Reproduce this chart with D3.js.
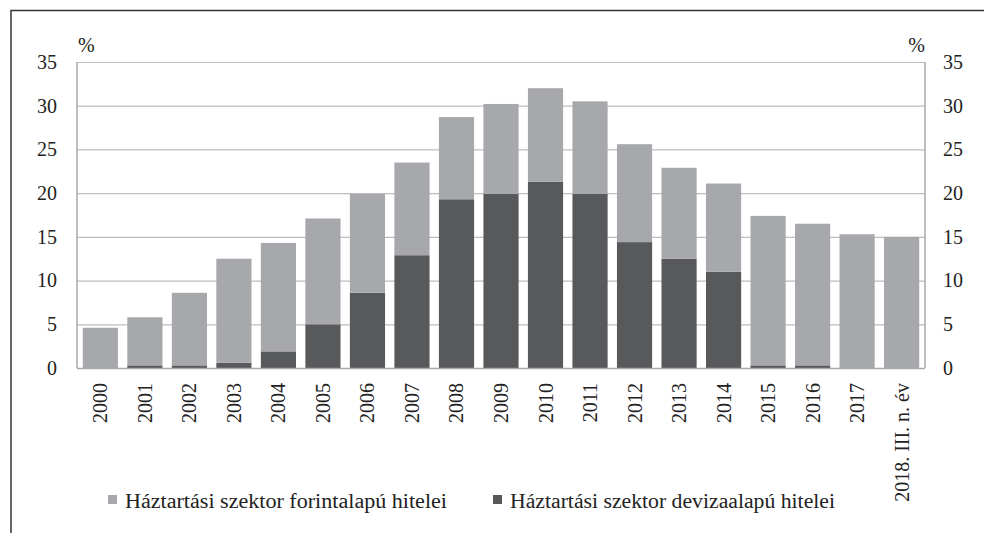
<!DOCTYPE html>
<html><head><meta charset="utf-8">
<script src="https://cdn.jsdelivr.net/npm/d3@7"></script>
<style>body{margin:0;background:#fff}svg{display:block}text{font-family:"Liberation Serif","Times New Roman",serif;fill:#222}</style>
</head><body><svg id="c" width="984" height="533"></svg>
<script>
const categories=["2000","2001","2002","2003","2004","2005","2006","2007","2008","2009","2010","2011","2012","2013","2014","2015","2016","2017","2018. III. n. év"];
const totals=[4.6,5.8,8.6,12.5,14.3,17.1,19.9,23.5,28.7,30.2,32.0,30.5,25.6,22.9,21.1,17.4,16.5,15.3,15.0];
const deviza=[0,0.3,0.3,0.6,1.9,5.0,8.6,12.9,19.3,19.9,21.3,19.9,14.4,12.5,11.0,0.3,0.3,0,0];
const forint=totals.map((t,i)=>+(t-deviza[i]).toFixed(2));
const yTicks=[0,5,10,15,20,25,30,35];
const seriesNames=["Háztartási szektor forintalapú hitelei","Háztartási szektor devizaalapú hitelei"];
const colors=["#a7a8ab","#58595b"];

const svg=d3.select("#c");
const L=77,R=925,T=62,B=368;
const FS=20;
// frame
svg.append("path").attr("d",`M11,533 V10.5 H984`).attr("fill","none").attr("stroke","#333").attr("stroke-width",1.5);

const x=d3.scaleBand().domain(categories).range([L,R]).paddingInner(0.21).paddingOuter(0.13);
const y=d3.scaleLinear().domain([0,35]).range([B,T]);

// gridlines
svg.append("g").selectAll("line").data(yTicks.slice(1)).join("line")
 .attr("x1",L).attr("x2",R).attr("y1",d=>y(d)+0.5).attr("y2",d=>y(d)+0.5)
 .attr("stroke","#bdbdbd").attr("stroke-width",1.2);

// bars
const stackData=categories.map((c,i)=>({cat:c,deviza:deviza[i],forint:forint[i]}));
const stack=d3.stack().keys(["deviza","forint"])(stackData);
const colorOf={deviza:colors[1],forint:colors[0]};
svg.append("g").selectAll("g").data(stack).join("g").attr("fill",d=>colorOf[d.key])
 .selectAll("rect").data(d=>d).join("rect")
 .attr("x",d=>x(d.data.cat)).attr("width",x.bandwidth())
 .attr("y",d=>y(d[1])).attr("height",d=>Math.max(0,y(d[0])-y(d[1])));

// axis frame lines
const ax=svg.append("g").attr("stroke","#a9a9a9").attr("stroke-width",1.5);
ax.append("line").attr("x1",L).attr("x2",L).attr("y1",T).attr("y2",B);
ax.append("line").attr("x1",R).attr("x2",R).attr("y1",T).attr("y2",B);
ax.append("line").attr("x1",L).attr("x2",R).attr("y1",B+0.5).attr("y2",B+0.5);

// y axes via d3 axes
const yl=svg.append("g").attr("transform",`translate(${L},0)`).call(d3.axisLeft(y).tickValues(yTicks).tickSize(0).tickPadding(20));
const yr=svg.append("g").attr("transform",`translate(${R},0)`).call(d3.axisRight(y).tickValues(yTicks).tickSize(0).tickPadding(18));
[yl,yr].forEach(g=>{g.select(".domain").remove();g.selectAll("text").attr("font-size",FS).attr("font-family","Liberation Serif").attr("fill","#222");});

svg.append("text").attr("x",78).attr("y",52).attr("font-size",FS).text("%");
svg.append("text").attr("x",925).attr("y",52).attr("font-size",FS).attr("text-anchor","end").text("%");

// x labels
const xa=svg.append("g").attr("transform",`translate(0,${B})`).call(d3.axisBottom(x).tickSize(0).tickPadding(0));
xa.select(".domain").remove();
xa.selectAll("text").attr("font-size",FS).attr("font-family","Liberation Serif").attr("fill","#222")
 .attr("text-anchor","end").attr("dy","0.35em")
 .attr("transform","translate(0,15) rotate(-90)").attr("x",0).attr("y",0);

// legend
const leg=[{x:108,tx:125,w:322},{x:493,tx:510,w:325}];
seriesNames.forEach((n,i)=>{
 svg.append("rect").attr("x",leg[i].x).attr("y",495).attr("width",9).attr("height",9).attr("fill",colors[i]);
 svg.append("text").attr("x",leg[i].tx).attr("y",508).attr("font-size",FS)
  .attr("textLength",leg[i].w).attr("lengthAdjust","spacingAndGlyphs").text(n);
});
</script></body></html>
